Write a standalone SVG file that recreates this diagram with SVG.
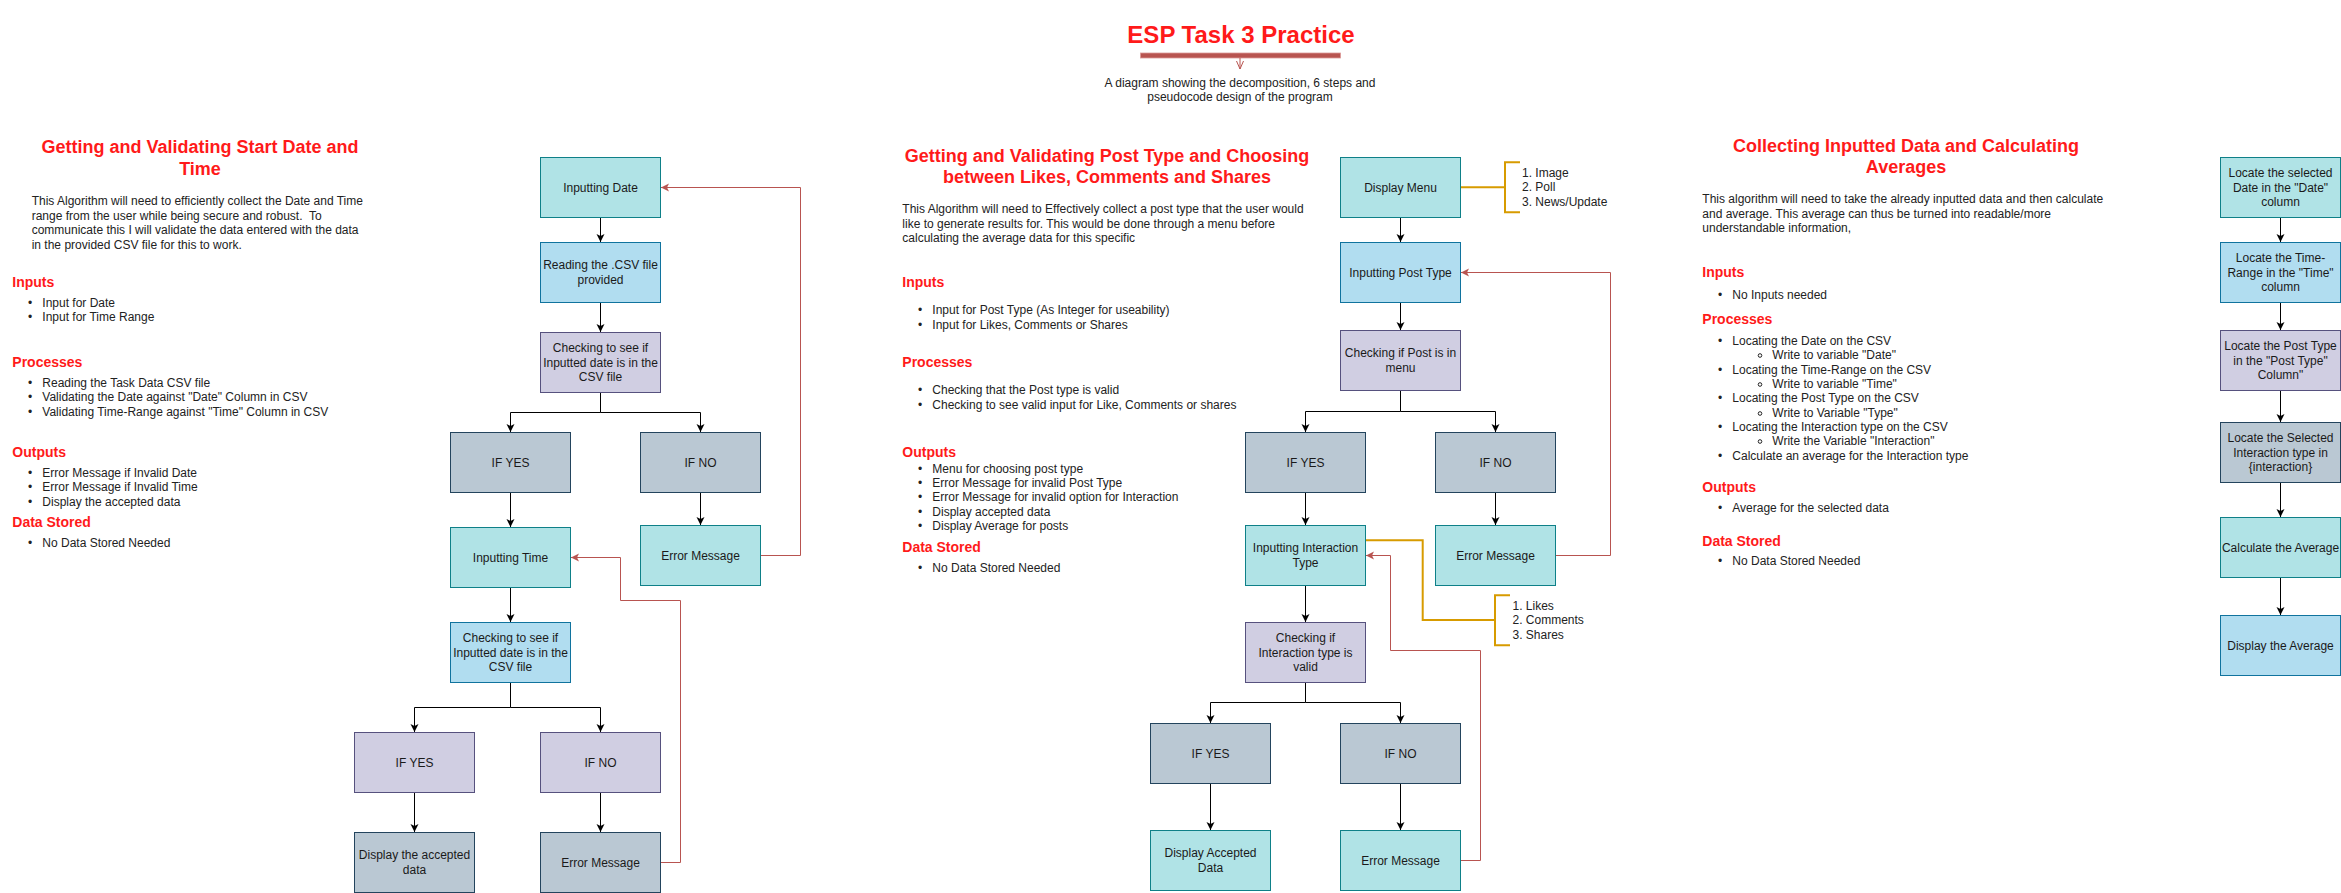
<svg xmlns="http://www.w3.org/2000/svg" width="2341" height="893" viewBox="0 0 2341 893">
<style>
text{font-family:"Liberation Sans",Arial,"DejaVu Sans",sans-serif;}
.teal{fill:#b0e3e6;stroke:#0e8088;stroke-width:1}
.blue{fill:#b1ddf0;stroke:#10739e;stroke-width:1}
.purple{fill:#d0cee2;stroke:#56517e;stroke-width:1}
.grey{fill:#bac8d3;stroke:#23445d;stroke-width:1}
.nt{font-size:12px;fill:#1a1a1a;text-anchor:middle}
.bt{font-size:12px;fill:#222}
.hd{font-size:14px;font-weight:bold;fill:#ff1a1a}
.tt{font-size:18px;font-weight:bold;fill:#ff1a1a;text-anchor:middle}
.e{fill:none;stroke:#000;stroke-width:1;marker-end:url(#ab)}
.eg{fill:none;stroke:#000;stroke-width:1}
.r{fill:none;stroke:#b85450;stroke-width:1;marker-end:url(#ar)}
.o{fill:none;stroke:#d79b00;stroke-width:2}
</style>
<defs>
<marker id="ab" markerUnits="userSpaceOnUse" markerWidth="10" markerHeight="10" viewBox="0 0 10 10" refX="9" refY="5" orient="auto"><path d="M1,1 L9,5 L1,9 L3,5 z" fill="#000"/></marker>
<marker id="ar" markerUnits="userSpaceOnUse" markerWidth="10" markerHeight="10" viewBox="0 0 10 10" refX="9" refY="5" orient="auto"><path d="M1,1 L9,5 L1,9 L3,5 z" fill="#b85450"/></marker>
</defs>
<rect width="2341" height="893" fill="#fff"/>

<g id="header">
<text x="1241" y="42.7" font-size="24" font-weight="bold" fill="#ff1a1a" text-anchor="middle">ESP Task 3 Practice</text>
<rect x="1140.5" y="53" width="200" height="5" fill="#b85450" stroke="#dc9a97" stroke-width="0.8"/>
<line x1="1240" y1="58" x2="1240" y2="69" stroke="#b85450" stroke-width="1"/>
<polyline points="1236.5,61 1240,69 1243.5,61" fill="none" stroke="#b85450" stroke-width="1"/>
<text x="1240" y="86.5" class="bt" text-anchor="middle">A diagram showing the decomposition, 6 steps and</text>
<text x="1240" y="101" class="bt" text-anchor="middle">pseudocode design of the program</text>
</g>

<g id="left-text">
<text x="200" y="153.3" class="tt">Getting and Validating Start Date and</text>
<text x="200" y="175" class="tt">Time</text>
<text x="31.7" y="205" class="bt">This Algorithm will need to efficiently collect the Date and Time</text>
<text x="31.7" y="219.5" class="bt" xml:space="preserve">range from the user while being secure and robust.  To</text>
<text x="31.7" y="234" class="bt">communicate this I will validate the data entered with the data</text>
<text x="31.7" y="248.5" class="bt">in the provided CSV file for this to work.</text>
<text x="12.3" y="287.3" class="hd">Inputs</text>
<text x="28" y="307" class="bt">•</text><text x="42.3" y="307" class="bt">Input for Date</text>
<text x="28" y="321" class="bt">•</text><text x="42.3" y="321" class="bt">Input for Time Range</text>
<text x="12.3" y="367" class="hd">Processes</text>
<text x="28" y="387" class="bt">•</text><text x="42.3" y="387" class="bt">Reading the Task Data CSV file</text>
<text x="28" y="401" class="bt">•</text><text x="42.3" y="401" class="bt">Validating the Date against "Date" Column in CSV</text>
<text x="28" y="416" class="bt">•</text><text x="42.3" y="416" class="bt">Validating Time-Range against "Time" Column in CSV</text>
<text x="12.3" y="457.3" class="hd">Outputs</text>
<text x="28" y="477" class="bt">•</text><text x="42.3" y="477" class="bt">Error Message if Invalid Date</text>
<text x="28" y="491" class="bt">•</text><text x="42.3" y="491" class="bt">Error Message if Invalid Time</text>
<text x="28" y="506" class="bt">•</text><text x="42.3" y="506" class="bt">Display the accepted data</text>
<text x="12.3" y="527.3" class="hd">Data Stored</text>
<text x="28" y="547" class="bt">•</text><text x="42.3" y="547" class="bt">No Data Stored Needed</text>
</g>

<g id="mid-text">
<text x="1107" y="161.5" class="tt">Getting and Validating Post Type and Choosing</text>
<text x="1107" y="182.8" class="tt">between Likes, Comments and Shares</text>
<text x="902.3" y="213.3" class="bt">This Algorithm will need to Effectively collect a post type that the user would</text>
<text x="902.3" y="228" class="bt">like to generate results for. This would be done through a menu before</text>
<text x="902.3" y="242.3" class="bt">calculating the average data for this specific</text>
<text x="902.3" y="287.3" class="hd">Inputs</text>
<text x="918" y="314.3" class="bt">•</text><text x="932.3" y="314.3" class="bt">Input for Post Type (As Integer for useability)</text>
<text x="918" y="329" class="bt">•</text><text x="932.3" y="329" class="bt">Input for Likes, Comments or Shares</text>
<text x="902.3" y="367.3" class="hd">Processes</text>
<text x="918" y="394" class="bt">•</text><text x="932.3" y="394" class="bt">Checking that the Post type is valid</text>
<text x="918" y="409" class="bt">•</text><text x="932.3" y="409" class="bt">Checking to see valid input for Like, Comments or shares</text>
<text x="902.3" y="457.3" class="hd">Outputs</text>
<text x="918" y="473" class="bt">•</text><text x="932.3" y="473" class="bt">Menu for choosing post type</text>
<text x="918" y="487" class="bt">•</text><text x="932.3" y="487" class="bt">Error Message for invalid Post Type</text>
<text x="918" y="501" class="bt">•</text><text x="932.3" y="501" class="bt">Error Message for invalid option for Interaction</text>
<text x="918" y="516" class="bt">•</text><text x="932.3" y="516" class="bt">Display accepted data</text>
<text x="918" y="530.3" class="bt">•</text><text x="932.3" y="530.3" class="bt">Display Average for posts</text>
<text x="902.3" y="552.3" class="hd">Data Stored</text>
<text x="918" y="572" class="bt">•</text><text x="932.3" y="572" class="bt">No Data Stored Needed</text>
</g>

<g id="right-text">
<text x="1906" y="151.7" class="tt">Collecting Inputted Data and Calculating</text>
<text x="1906" y="172.9" class="tt">Averages</text>
<text x="1702.3" y="203.3" class="bt">This algorithm will need to take the already inputted data and then calculate</text>
<text x="1702.3" y="218" class="bt">and average. This average can thus be turned into readable/more</text>
<text x="1702.3" y="232.3" class="bt">understandable information,</text>
<text x="1702.3" y="277.3" class="hd">Inputs</text>
<text x="1718" y="299" class="bt">•</text><text x="1732.3" y="299" class="bt">No Inputs needed</text>
<text x="1702.3" y="324.3" class="hd">Processes</text>
<text x="1718" y="345" class="bt">•</text><text x="1732.3" y="345" class="bt">Locating the Date on the CSV</text>
<circle cx="1760" cy="355.5" r="1.8" fill="none" stroke="#222" stroke-width="1"/><text x="1772.3" y="359" class="bt">Write to variable "Date"</text>
<text x="1718" y="374" class="bt">•</text><text x="1732.3" y="374" class="bt">Locating the Time-Range on the CSV</text>
<circle cx="1760" cy="384.5" r="1.8" fill="none" stroke="#222" stroke-width="1"/><text x="1772.3" y="388" class="bt">Write to variable "Time"</text>
<text x="1718" y="402" class="bt">•</text><text x="1732.3" y="402" class="bt">Locating the Post Type on the CSV</text>
<circle cx="1760" cy="413.5" r="1.8" fill="none" stroke="#222" stroke-width="1"/><text x="1772.3" y="417" class="bt">Write to Variable "Type"</text>
<text x="1718" y="431" class="bt">•</text><text x="1732.3" y="431" class="bt">Locating the Interaction type on the CSV</text>
<circle cx="1760" cy="441.5" r="1.8" fill="none" stroke="#222" stroke-width="1"/><text x="1772.3" y="445" class="bt">Write the Variable "Interaction"</text>
<text x="1718" y="460" class="bt">•</text><text x="1732.3" y="460" class="bt">Calculate an average for the Interaction type</text>
<text x="1702.3" y="492.3" class="hd">Outputs</text>
<text x="1718" y="512" class="bt">•</text><text x="1732.3" y="512" class="bt">Average for the selected data</text>
<text x="1702.3" y="545.7" class="hd">Data Stored</text>
<text x="1718" y="565" class="bt">•</text><text x="1732.3" y="565" class="bt">No Data Stored Needed</text>
</g>

<g id="connectors">
<!-- left chart -->
<path class="e" d="M600.5,217.5 V242"/>
<path class="e" d="M600.5,302.5 V332"/>
<path class="eg" d="M600.5,392.5 V412.5 H510.5 M600.5,412.5 H700.5"/>
<path class="e" d="M510.5,412.5 V432"/>
<path class="e" d="M700.5,412.5 V432"/>
<path class="e" d="M510.5,492.5 V527"/>
<path class="e" d="M700.5,492.5 V525"/>
<path class="e" d="M510.5,587.5 V622"/>
<path class="eg" d="M510.5,682.5 V707.5 H414.5 M510.5,707.5 H600.5"/>
<path class="e" d="M414.5,707.5 V732"/>
<path class="e" d="M600.5,707.5 V732"/>
<path class="e" d="M414.5,792.5 V832"/>
<path class="e" d="M600.5,792.5 V832"/>
<path class="r" d="M760.5,555.5 H800.5 V187.5 H661"/>
<path class="r" d="M660.5,862.5 H680.5 V600.5 H620.5 V557.5 H571"/>
<!-- middle chart -->
<path class="e" d="M1400.5,217.5 V242"/>
<path class="e" d="M1400.5,302.5 V330"/>
<path class="eg" d="M1400.5,390.5 V411.5 H1305.5 M1400.5,411.5 H1495.5"/>
<path class="e" d="M1305.5,411.5 V432"/>
<path class="e" d="M1495.5,411.5 V432"/>
<path class="e" d="M1305.5,492.5 V525"/>
<path class="e" d="M1495.5,492.5 V525"/>
<path class="e" d="M1305.5,585.5 V622"/>
<path class="eg" d="M1305.5,682.5 V702.5 H1210.5 M1305.5,702.5 H1400.5" stroke="#333"/>
<path class="e" d="M1210.5,702.5 V723"/>
<path class="e" d="M1400.5,702.5 V723"/>
<path class="e" d="M1210.5,783.5 V830"/>
<path class="e" d="M1400.5,783.5 V830"/>
<path class="r" d="M1555.5,555.5 H1610.5 V272.5 H1461"/>
<path class="r" d="M1460.5,860.5 H1480.5 V650.5 H1390.5 V555.5 H1366"/>
<path class="o" d="M1461,187.3 H1505"/>
<path class="o" d="M1520,162.3 H1505 V212.3 H1520"/>
<path class="o" d="M1366,540.3 H1422.7 V620 H1495"/>
<path class="o" d="M1510,595.3 H1495 V645.3 H1510"/>
<!-- right chart -->
<path class="e" d="M2280.5,217.5 V242"/>
<path class="e" d="M2280.5,302.5 V330"/>
<path class="e" d="M2280.5,390.5 V422"/>
<path class="e" d="M2280.5,482.5 V517"/>
<path class="e" d="M2280.5,577.5 V615"/>
</g>

<g id="menu-list-1">
<text x="1522" y="177" class="bt">1. Image</text>
<text x="1522" y="191" class="bt">2. Poll</text>
<text x="1522" y="205.5" class="bt">3. News/Update</text>
</g>
<g id="menu-list-2">
<text x="1512.5" y="610" class="bt">1. Likes</text>
<text x="1512.5" y="624" class="bt">2. Comments</text>
<text x="1512.5" y="638.5" class="bt">3. Shares</text>
</g>

<!-- left chart nodes -->
<g id="l-input-date"><rect class="teal" x="540.5" y="157.5" width="120" height="60"/><text class="nt" x="600.5" y="191.5">Inputting Date</text></g>
<g id="l-reading"><rect class="blue" x="540.5" y="242.5" width="120" height="60"/><text class="nt" x="600.5" y="269.3">Reading the .CSV file</text><text class="nt" x="600.5" y="283.7">provided</text></g>
<g id="l-check1"><rect class="purple" x="540.5" y="332.5" width="120" height="60"/><text class="nt" x="600.5" y="352.1">Checking to see if</text><text class="nt" x="600.5" y="366.5">Inputted date is in the</text><text class="nt" x="600.5" y="380.9">CSV file</text></g>
<g id="l-yes1"><rect class="grey" x="450.5" y="432.5" width="120" height="60"/><text class="nt" x="510.5" y="466.5">IF YES</text></g>
<g id="l-no1"><rect class="grey" x="640.5" y="432.5" width="120" height="60"/><text class="nt" x="700.5" y="466.5">IF NO</text></g>
<g id="l-input-time"><rect class="teal" x="450.5" y="527.5" width="120" height="60"/><text class="nt" x="510.5" y="561.5">Inputting Time</text></g>
<g id="l-error1"><rect class="teal" x="640.5" y="525.5" width="120" height="60"/><text class="nt" x="700.5" y="559.5">Error Message</text></g>
<g id="l-check2"><rect class="blue" x="450.5" y="622.5" width="120" height="60"/><text class="nt" x="510.5" y="642.1">Checking to see if</text><text class="nt" x="510.5" y="656.5">Inputted date is in the</text><text class="nt" x="510.5" y="670.9">CSV file</text></g>
<g id="l-yes2"><rect class="purple" x="354.5" y="732.5" width="120" height="60"/><text class="nt" x="414.5" y="766.5">IF YES</text></g>
<g id="l-no2"><rect class="purple" x="540.5" y="732.5" width="120" height="60"/><text class="nt" x="600.5" y="766.5">IF NO</text></g>
<g id="l-display"><rect class="grey" x="354.5" y="832.5" width="120" height="60"/><text class="nt" x="414.5" y="859.3">Display the accepted</text><text class="nt" x="414.5" y="873.7">data</text></g>
<g id="l-error2"><rect class="grey" x="540.5" y="832.5" width="120" height="60"/><text class="nt" x="600.5" y="866.5">Error Message</text></g>

<!-- middle chart nodes -->
<g id="m-menu"><rect class="teal" x="1340.5" y="157.5" width="120" height="60"/><text class="nt" x="1400.5" y="191.5">Display Menu</text></g>
<g id="m-posttype"><rect class="blue" x="1340.5" y="242.5" width="120" height="60"/><text class="nt" x="1400.5" y="276.5">Inputting Post Type</text></g>
<g id="m-check1"><rect class="purple" x="1340.5" y="330.5" width="120" height="60"/><text class="nt" x="1400.5" y="357.3">Checking if Post is in</text><text class="nt" x="1400.5" y="371.7">menu</text></g>
<g id="m-yes1"><rect class="grey" x="1245.5" y="432.5" width="120" height="60"/><text class="nt" x="1305.5" y="466.5">IF YES</text></g>
<g id="m-no1"><rect class="grey" x="1435.5" y="432.5" width="120" height="60"/><text class="nt" x="1495.5" y="466.5">IF NO</text></g>
<g id="m-interaction"><rect class="teal" x="1245.5" y="525.5" width="120" height="60"/><text class="nt" x="1305.5" y="552.3">Inputting Interaction</text><text class="nt" x="1305.5" y="566.7">Type</text></g>
<g id="m-error1"><rect class="teal" x="1435.5" y="525.5" width="120" height="60"/><text class="nt" x="1495.5" y="559.5">Error Message</text></g>
<g id="m-check2"><rect class="purple" x="1245.5" y="622.5" width="120" height="60"/><text class="nt" x="1305.5" y="642.1">Checking if</text><text class="nt" x="1305.5" y="656.5">Interaction type is</text><text class="nt" x="1305.5" y="670.9">valid</text></g>
<g id="m-yes2"><rect class="grey" x="1150.5" y="723.5" width="120" height="60"/><text class="nt" x="1210.5" y="757.5">IF YES</text></g>
<g id="m-no2"><rect class="grey" x="1340.5" y="723.5" width="120" height="60"/><text class="nt" x="1400.5" y="757.5">IF NO</text></g>
<g id="m-display"><rect class="teal" x="1150.5" y="830.5" width="120" height="60"/><text class="nt" x="1210.5" y="857.3">Display Accepted</text><text class="nt" x="1210.5" y="871.7">Data</text></g>
<g id="m-error2"><rect class="teal" x="1340.5" y="830.5" width="120" height="60"/><text class="nt" x="1400.5" y="864.5">Error Message</text></g>

<!-- right chart nodes -->
<g id="r-date"><rect class="teal" x="2220.5" y="157.5" width="120" height="60"/><text class="nt" x="2280.5" y="177.1">Locate the selected</text><text class="nt" x="2280.5" y="191.5">Date in the "Date"</text><text class="nt" x="2280.5" y="205.9">column</text></g>
<g id="r-time"><rect class="blue" x="2220.5" y="242.5" width="120" height="60"/><text class="nt" x="2280.5" y="262.1">Locate the Time-</text><text class="nt" x="2280.5" y="276.5">Range in the "Time"</text><text class="nt" x="2280.5" y="290.9">column</text></g>
<g id="r-post"><rect class="purple" x="2220.5" y="330.5" width="120" height="60"/><text class="nt" x="2280.5" y="350.1">Locate the Post Type</text><text class="nt" x="2280.5" y="364.5">in the "Post Type"</text><text class="nt" x="2280.5" y="378.9">Column"</text></g>
<g id="r-interaction"><rect class="grey" x="2220.5" y="422.5" width="120" height="60"/><text class="nt" x="2280.5" y="442.1">Locate the Selected</text><text class="nt" x="2280.5" y="456.5">Interaction type in</text><text class="nt" x="2280.5" y="470.9">{interaction}</text></g>
<g id="r-calc"><rect class="teal" x="2220.5" y="517.5" width="120" height="60"/><text class="nt" x="2280.5" y="551.5">Calculate the Average</text></g>
<g id="r-display"><rect class="blue" x="2220.5" y="615.5" width="120" height="60"/><text class="nt" x="2280.5" y="649.5">Display the Average</text></g>
</svg>
